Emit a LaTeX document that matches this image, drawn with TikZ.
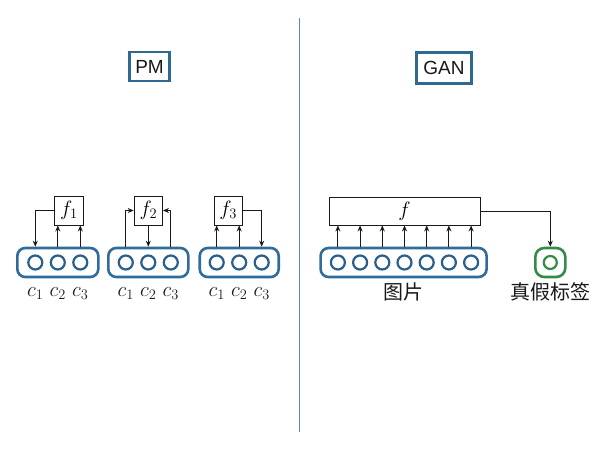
\documentclass[tikz,border=0pt]{standalone}
\usepackage{fontspec}
\setsansfont{Liberation Sans}
\newfontfamily\cjk{Noto Sans CJK SC}
\usetikzlibrary{arrows.meta,calc}
\definecolor{pillblue}{RGB}{48,108,155}
\definecolor{cellblue}{RGB}{40,95,140}
\definecolor{titleblue}{RGB}{45,105,145}
\definecolor{divblue}{RGB}{85,140,180}
\definecolor{ggreen}{RGB}{50,140,70}
\definecolor{ink}{RGB}{25,25,25}
\tikzset{
  pill/.style={draw=pillblue,line width=2.6pt,rounded corners=8pt,minimum height=29pt,inner sep=0pt},
  cell/.style={circle,draw=cellblue,line width=2.2pt,minimum size=14pt,inner sep=0pt},
  fbox/.style={draw=ink,line width=0.8pt,minimum width=28.5pt,minimum height=29pt,inner sep=0pt,font=\fontsize{22}{26}\selectfont},
  titlebox/.style={draw=titleblue,line width=2.2pt,inner sep=0pt,font=\sffamily\fontsize{19}{22}\selectfont,text=ink},
  arr/.style={-{Stealth[length=6pt,width=5pt]},draw=ink,line width=1pt},
  clab/.style={font=\fontsize{22}{26}\selectfont,text=ink,inner sep=0pt},
  zlab/.style={font=\cjk\fontsize{20}{24}\selectfont,text=ink,inner sep=0pt}
}
\begin{document}
\begin{tikzpicture}[x=1pt,y=-1pt]
\useasboundingbox (0,0) rectangle (600,450);
\fill[white] (0,0) rectangle (600,450);
% divider
\draw[divblue,line width=1.4pt] (299.5,18) coordinate (dtop) -- (299.5,432) coordinate (dbot);
% titles
\node[titlebox,minimum width=40pt,minimum height=29pt] (pm) at (149.5,66.5) {PM};
\node[titlebox,minimum width=55pt,minimum height=31pt] (gan) at (444,68) {GAN};

% ---- PM group 1
\node[pill,minimum width=81pt] (p1) at (57.8,262.5) {};
\foreach \i/\x in {1/35.3,2/57.8,3/80.3}{
  \node[cell] (p1c\i) at (\x,262.5) {};
  \node[clab] (l1c\i) at (\x,293.5) {$c_{\i}$};
}
\node[fbox] (f1) at (69,210.5) {$f_1$};
\draw[arr] (f1.west) -| (p1c1 |- p1.north);
\draw[arr] (p1c2 |- p1.north) -- (p1c2 |- f1.south);
\draw[arr] (p1c3 |- p1.north) -- (p1c3 |- f1.south);

% ---- PM group 2
\node[pill,minimum width=80pt] (p2) at (148.3,262.5) {};
\foreach \i/\x in {1/125.8,2/148.3,3/170.8}{
  \node[cell] (p2c\i) at (\x,262.5) {};
  \node[clab] (l2c\i) at (\x,293.5) {$c_{\i}$};
}
\node[fbox] (f2) at (148.3,210.5) {$f_2$};
\draw[arr] (p2c1 |- p2.north) |- (f2.west);
\draw[arr] (p2c3 |- p2.north) |- (f2.east);
\draw[arr] (f2.south) -- (f2.south |- p2.north);

% ---- PM group 3
\node[pill,minimum width=79pt] (p3) at (239.2,262.5) {};
\foreach \i/\x in {1/216.7,2/239.2,3/261.7}{
  \node[cell] (p3c\i) at (\x,262.5) {};
  \node[clab] (l3c\i) at (\x,293.5) {$c_{\i}$};
}
\node[fbox] (f3) at (228.2,210.5) {$f_3$};
\draw[arr] (p3c1 |- p3.north) -- (p3c1 |- f3.south);
\draw[arr] (p3c2 |- p3.north) -- (p3c2 |- f3.south);
\draw[arr] (f3.east) -| (p3c3 |- p3.north);

% ---- GAN
\node[pill,minimum width=166pt] (gp) at (403.6,262.5) {};
\node[fbox,minimum width=151pt,minimum height=28pt] (gf) at (404.5,211) {$f$};
\foreach \i in {1,...,7}{
  \node[cell] (gc\i) at ({404.5+(\i-4)*22.2},262.5) {};
  \draw[arr] (gc\i |- gp.north) -- (gc\i |- gf.south);
}
\node[zlab] (img) at (403.5,292) {图片};
\node[draw=ggreen,line width=2.6pt,rounded corners=9pt,minimum width=30pt,minimum height=29pt,inner sep=0pt] (gt) at (550.3,262.5) {};
\node[circle,draw=ggreen,line width=2.2pt,minimum size=13pt,inner sep=0pt] (gtc) at (gt.center) {};
\draw[arr] (gf.east) -| (gt.north);
\node[zlab] (lab) at (550.3,292) {真假标签};
\end{tikzpicture}
\end{document}
